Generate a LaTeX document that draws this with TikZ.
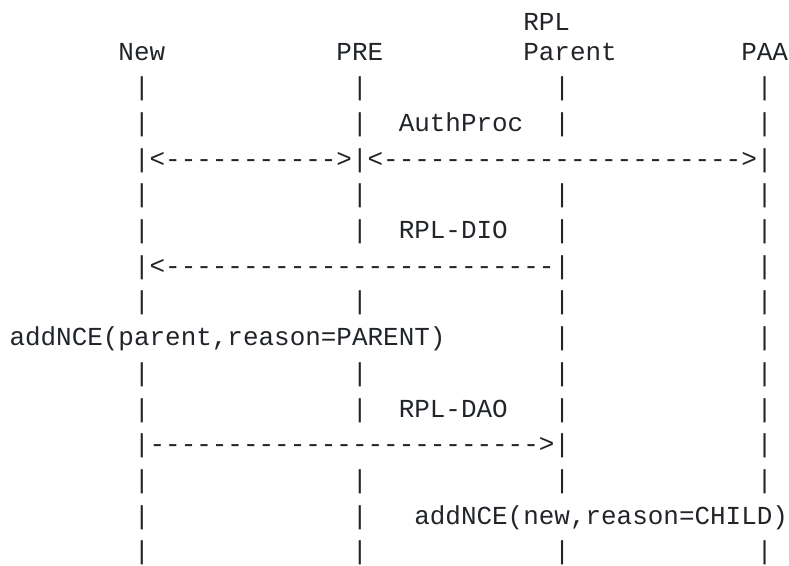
\documentclass[tikz,border=0pt]{standalone}
\usepackage{fontspec}
\setmonofont{Liberation Mono}
\definecolor{ink}{HTML}{212529}
\ExplSyntaxOn
\cs_new:Npn \repch #1#2 { \prg_replicate:nn {#1} {#2} }
\ExplSyntaxOff
\tikzset{
  asc/.style={anchor=base west, inner sep=0pt, outer sep=0pt, text=ink,
    font=\ttfamily\fontsize{25.95}{30}\selectfont}
}
% place text #4 named #1 at column #2, baseline #3 (px from top)
\newcommand{\asctxt}[4]{\node[asc] (#1) at ({9.5+#2*15.57},{-#3}) {#4};}
% vertical bars of one row
\newcommand{\pipesrow}[3]{\foreach \c in {#3}{\node[asc] (#1-\c) at ({9.5+\c*15.57},{-#2}) {|};}}
\begin{document}
\begin{tikzpicture}[x=1pt,y=1pt]
\fill[white] (0,0) rectangle (789,-565);
\useasboundingbox (0,0) rectangle (789,-565);
% header
\asctxt{rpl}{33}{30}{RPL}
\asctxt{new}{7}{60}{New}
\asctxt{pre}{21}{60}{PRE}
\asctxt{parent}{33}{60}{Parent}
\asctxt{paa}{47}{60}{PAA}
% row 3
\pipesrow{r3}{95.7}{8,22,35,48}
% row 4
\pipesrow{r4}{131.4}{8,22,35,48}
\asctxt{authproc}{25}{131.4}{AuthProc}
% row 5
\asctxt{authmsg}{8}{167.1}{|<\repch{11}{-}>|<\repch{23}{-}>|}
% row 6
\pipesrow{r6}{202.8}{8,22,35,48}
% row 7
\pipesrow{r7}{238.5}{8,22,35,48}
\asctxt{dio}{25}{238.5}{RPL-DIO}
% row 8
\asctxt{diomsg}{8}{274.2}{|<\repch{25}{-}|}
\pipesrow{r8}{274.2}{48}
% row 9
\pipesrow{r9}{309.9}{8,22,35,48}
% row 10
\asctxt{nceparent}{0}{345.6}{addNCE(parent,reason=PARENT)}
\pipesrow{r10}{345.6}{35,48}
% row 11
\pipesrow{r11}{381.3}{8,22,35,48}
% row 12
\pipesrow{r12}{417.0}{8,22,35,48}
\asctxt{dao}{25}{417.0}{RPL-DAO}
% row 13
\asctxt{daomsg}{8}{452.7}{|\repch{25}{-}>|}
\pipesrow{r13}{452.7}{48}
% row 14
\pipesrow{r14}{488.4}{8,22,35,48}
% row 15
\pipesrow{r15}{524.1}{8,22}
\asctxt{ncechild}{26}{524.1}{addNCE(new,reason=CHILD)}
% row 16
\pipesrow{r16}{559.8}{8,22,35,48}
\end{tikzpicture}
\end{document}
